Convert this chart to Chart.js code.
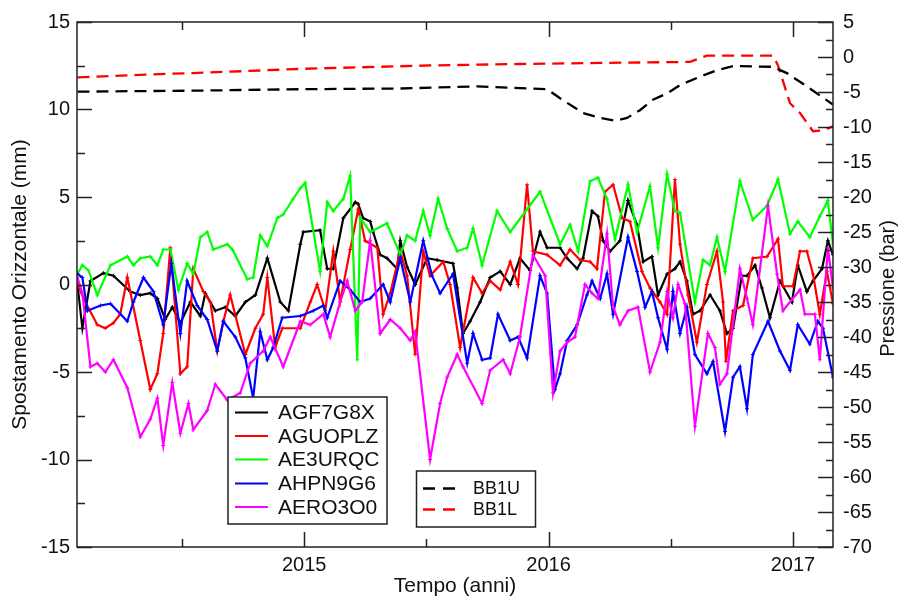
<!DOCTYPE html>
<html>
<head>
<meta charset="utf-8">
<script src="https://cdn.jsdelivr.net/npm/chart.js@4"></script>
<style>
html,body{margin:0;padding:0;background:#fff;}
canvas{display:block;}
</style>
</head>
<body>
<canvas id="c" width="901" height="600"></canvas>
<script>
// ---------- axis definitions ----------
const xMin = 2014.07, xMax = 2017.164;
const xTicks = [2015, 2016, 2017];
const xMinorTicks = [2014.5, 2015.5, 2016.5];
const yTicks = [-15, -10, -5, 0, 5, 10, 15];
const y1Ticks = [-70, -65, -60, -55, -50, -45, -40, -35, -30, -25, -20, -15, -10, -5, 0, 5];

const seriesNames = ['AGF7G8X', 'AGUOPLZ', 'AE3URQC', 'AHPN9G6', 'AERO3O0'];
const pressureNames = ['BB1U', 'BB1L'];

// ---------- displacement series (mm), time in decimal years ----------
const agf7g8xT = [2014.072,2014.092,2014.125,2014.178,2014.219,2014.288,2014.329,2014.370,2014.399,2014.431,
2014.460,2014.493,2014.534,2014.575,2014.595,2014.636,2014.677,2014.718,2014.759,2014.800,
2014.849,2014.902,2014.935,2014.984,2014.996,2015.065,2015.094,2015.119,2015.160,2015.209,
2015.221,2015.241,2015.270,2015.282,2015.311,2015.339,2015.380,2015.393,2015.421,2015.454,
2015.503,2015.544,2015.609,2015.626,2015.650,2015.679,2015.720,2015.761,2015.802,2015.843,
2015.883,2015.924,2015.965,2015.994,
2016.047,2016.076,2016.117,2016.141,2016.178,2016.202,2016.223,2016.252,2016.292,2016.325,
2016.362,2016.387,2016.423,2016.448,2016.485,2016.517,2016.538,2016.566,2016.591,2016.620,
2016.661,2016.701,2016.730,2016.755,2016.791,2016.812,2016.845,2016.873,2016.906,2016.947,
2016.996,2017.020,2017.057,2017.082,2017.119,2017.143,2017.164];
const agf7g8xV = [0.0,-2.5,0.2,0.65,0.5,-0.4,-0.6,-0.5,-0.8,-2.0,
-1.3,-2.2,-1.0,-1.8,-0.5,-1.5,-1.3,-1.8,-1.0,-0.6,
1.5,-1.0,-1.5,2.3,3.0,3.1,0.9,0.9,3.8,4.7,
4.6,3.8,3.6,3.0,1.7,1.5,0.9,2.5,1.0,0.0,
1.5,1.4,1.2,-0.2,-2.8,-2.1,-1.0,0.4,0.75,0.0,
1.5,0.8,3.0,2.1,
2.1,1.5,0.9,1.5,4.2,3.9,2.5,1.9,2.5,4.8,
3.4,1.3,1.6,-0.6,0.6,0.9,1.3,0.2,-1.7,-1.5,
-0.6,-1.5,-2.8,-2.5,0.5,0.5,1.1,-0.2,-1.9,0.2,
-1.0,1.1,-0.4,0.2,0.9,2.5,1.7];

const aguoplzT = [2014.072,2014.104,2014.153,2014.186,2014.219,2014.247,2014.276,2014.329,2014.370,2014.399,
2014.423,2014.452,2014.493,2014.521,2014.546,2014.587,2014.616,2014.644,2014.669,2014.697,
2014.759,2014.800,2014.832,2014.849,2014.881,2014.910,2014.984,2015.025,2015.053,2015.086,
2015.119,2015.147,2015.188,2015.221,2015.249,2015.299,2015.323,2015.352,2015.393,2015.421,
2015.454,2015.487,2015.515,2015.569,2015.597,2015.638,2015.691,2015.728,2015.761,2015.802,
2015.843,2015.875,2015.912,2015.936,
2015.994,2016.047,2016.088,2016.129,2016.170,2016.198,2016.231,2016.264,2016.301,2016.333,
2016.382,2016.415,2016.456,2016.485,2016.517,2016.538,2016.571,2016.607,2016.648,2016.689,
2016.714,2016.726,2016.755,2016.796,2016.836,2016.894,2016.939,2016.959,2017.000,2017.029,
2017.057,2017.082,2017.110,2017.139,2017.164];
const aguoplzV = [0.0,-1.0,-2.3,-2.5,-2.2,-1.7,0.4,-3.2,-6.0,-5.1,
-2.8,2.1,-5.1,-4.7,0.9,-0.4,-1.0,-3.8,-2.1,-0.6,
-4.0,-2.5,-1.7,0.4,-3.6,-2.5,-2.5,-1.0,0.0,-1.5,
1.9,-1.0,2.0,4.3,2.5,2.1,-1.7,-0.5,1.9,0.5,
-4.0,1.9,0.5,1.3,0.0,-3.6,0.4,-0.5,0.2,-0.3,
1.3,0.0,5.7,1.9,
1.7,1.1,2.0,1.4,1.3,0.9,5.3,5.7,3.8,3.6,
0.75,-0.2,-1.0,-1.7,6.0,2.3,-0.6,-3.3,0.0,1.9,
-1.0,-4.4,-1.5,-1.2,1.5,1.6,2.6,-0.1,-0.1,1.9,
1.9,0.6,-1.7,0.75,-1.1];

const ae3urqcT = [2014.072,2014.092,2014.117,2014.153,2014.207,2014.276,2014.301,2014.329,2014.370,2014.399,
2014.423,2014.452,2014.485,2014.521,2014.546,2014.575,2014.603,2014.628,2014.685,2014.706,
2014.767,2014.791,2014.820,2014.849,2014.890,2014.914,2014.955,2014.984,2015.004,2015.065,
2015.094,2015.119,2015.160,2015.188,2015.217,2015.229,2015.270,2015.339,2015.393,2015.421,
2015.454,2015.487,2015.515,2015.548,2015.585,2015.626,2015.667,2015.691,2015.728,2015.789,
2015.843,2015.912,2015.965,
2016.047,2016.088,2016.121,2016.170,2016.202,2016.239,2016.272,2016.325,2016.362,2016.415,
2016.448,2016.485,2016.517,2016.538,2016.599,2016.632,2016.661,2016.689,2016.722,2016.783,
2016.836,2016.894,2016.939,2016.988,2017.020,2017.069,2017.110,2017.143,2017.164];
const ae3urqcV = [0.6,1.1,0.8,-0.6,1.1,1.6,1.1,1.5,1.6,1.1,
2.0,2.0,-0.3,1.2,0.6,2.7,3.0,2.0,2.3,2.0,
0.3,0.4,2.8,2.2,3.8,4.0,4.9,5.5,5.8,0.75,
4.7,4.2,4.9,6.2,-4.3,3.8,3.0,3.5,1.7,2.8,
2.5,4.2,2.8,4.9,3.2,1.9,2.1,3.2,1.1,4.2,
3.0,4.3,5.3,
2.3,3.4,1.9,5.9,6.1,4.9,2.6,5.7,3.0,5.6,
2.1,6.3,4.2,4.1,-1.0,1.4,1.1,2.7,0.75,5.9,
3.7,4.5,6.0,2.9,3.6,2.7,3.9,4.8,2.3];

const ahpn9g6T = [2014.072,2014.092,2014.113,2014.166,2014.207,2014.276,2014.301,2014.342,2014.383,2014.423,
2014.456,2014.493,2014.521,2014.562,2014.603,2014.644,2014.669,2014.718,2014.759,2014.791,
2014.820,2014.849,2014.873,2014.910,2014.984,2015.037,2015.078,2015.094,2015.147,2015.188,
2015.229,2015.270,2015.323,2015.352,2015.393,2015.434,2015.487,2015.523,2015.556,2015.609,
2015.667,2015.691,2015.728,2015.761,2015.793,2015.843,2015.875,2015.912,2015.965,2015.994,
2016.026,
2016.047,2016.076,2016.117,2016.157,2016.178,2016.211,2016.239,2016.264,2016.325,2016.362,
2016.395,2016.423,2016.448,2016.485,2016.509,2016.538,2016.566,2016.599,2016.648,2016.673,
2016.722,2016.755,2016.783,2016.812,2016.836,2016.898,2016.947,2016.988,2017.020,2017.069,
2017.102,2017.123,2017.164];
const ahpn9g6V = [0.6,0.4,-1.5,-1.2,-1.1,-2.1,-1.0,0.4,-0.4,-2.3,
1.2,-2.8,0.2,-1.2,-2.0,-3.8,-2.1,-3.0,-4.2,-6.5,
-2.7,-4.3,-3.6,-1.9,-1.8,-1.5,-1.2,-1.9,0.2,-0.3,
-1.0,-0.8,0.0,-1.0,1.5,-1.0,2.5,0.5,-0.5,0.6,
-4.5,-2.8,-4.3,-4.2,-1.7,-3.2,-3.0,-4.2,0.5,-0.5,
-6.0,
-5.1,-3.2,-2.3,-0.6,0.2,-0.8,0.6,-1.7,2.7,0.75,
-1.3,-0.4,-1.9,-3.7,-0.4,-2.8,-1.3,-4.0,-5.1,-4.4,
-8.4,-5.3,-4.7,-7.1,-4.0,-2.1,-3.8,-4.9,-2.3,-3.4,
-2.1,-2.5,-5.3];

const aero3o0T = [2014.072,2014.092,2014.125,2014.153,2014.186,2014.219,2014.276,2014.329,2014.370,2014.399,
2014.423,2014.460,2014.493,2014.526,2014.546,2014.603,2014.636,2014.685,2014.738,2014.779,
2014.832,2014.861,2014.914,2014.984,2015.025,2015.078,2015.106,2015.147,2015.176,2015.209,
2015.237,2015.270,2015.311,2015.352,2015.393,2015.434,2015.454,2015.515,2015.556,2015.585,
2015.626,2015.650,2015.728,2015.761,2015.814,2015.843,2015.883,2015.936,2015.986,2016.018,
2016.047,2016.076,2016.108,2016.149,2016.178,2016.202,2016.239,2016.264,2016.292,2016.325,
2016.366,2016.415,2016.456,2016.485,2016.509,2016.530,2016.558,2016.599,2016.652,2016.681,
2016.701,2016.730,2016.783,2016.812,2016.836,2016.898,2016.935,2016.959,2017.029,2017.049,
2017.090,2017.110,2017.143,2017.164];
const aero3o0V = [0.4,-0.5,-4.7,-4.5,-5.0,-4.3,-5.9,-8.7,-7.7,-6.5,
-9.2,-5.6,-8.5,-6.8,-8.3,-7.2,-5.7,-6.6,-6.2,-4.5,
-3.8,-3.0,-4.7,-2.1,-2.3,-1.7,-3.0,-1.0,0.2,-1.5,
-1.0,2.5,-2.8,-2.0,-2.5,-3.2,-2.7,-10.0,-6.8,-5.3,
-4.0,-4.7,-6.8,-4.9,-4.3,-5.1,-3.0,1.7,0.5,-6.2,
-3.8,-3.3,-3.0,0.0,-0.5,-0.8,2.9,-1.3,-2.3,-1.5,
-1.3,-5.0,-3.3,-0.4,-1.9,0.0,-1.1,-8.1,-2.8,-3.6,
-5.7,-5.1,0.9,-0.8,-2.3,4.5,0.6,-1.5,-0.3,-1.7,
-1.7,-4.3,2.1,-0.2];

// ---------- pressure series (bar) ----------
const bb1uT = [2014.072,2014.575,2014.984,2015.393,2015.708,2015.994,2016.047,2016.141,2016.211,2016.272,2016.321,
2016.374,2016.427,2016.485,2016.538,2016.620,2016.689,2016.755,2016.918,2016.975,2017.057,2017.164];
const bb1uV = [-4.95,-4.8,-4.6,-4.5,-4.2,-4.6,-5.9,-8.0,-8.7,-9.1,-8.7,
-7.6,-6.1,-5.2,-4.0,-2.8,-1.9,-1.3,-1.4,-2.3,-4.2,-6.8];
const bb1lT = [2014.072,2014.370,2014.697,2014.984,2015.528,2015.883,2016.211,2016.579,2016.648,2016.918,2016.939,
2016.988,2017.029,2017.082,2017.123,2017.164];
const bb1lV = [-2.9,-2.5,-2.1,-1.7,-1.2,-1.0,-0.85,-0.7,0.2,0.2,-1.2,
-6.6,-8.0,-10.6,-10.5,-9.9];

// ---------- build datasets ----------
const FONT = '"Liberation Sans", Arial, Helvetica, sans-serif';
const TXT = '#111';
const pts = (t, v) => t.map((x, i) => ({x: x, y: v[i]}));

const solid = [
  [agf7g8xT, agf7g8xV, '#000000'],
  [aguoplzT, aguoplzV, '#ff0000'],
  [ae3urqcT, ae3urqcV, '#00ff00'],
  [ahpn9g6T, ahpn9g6V, '#0000ff'],
  [aero3o0T, aero3o0V, '#ff00ff']
];
const datasets = solid.map((s, i) => ({
  label: seriesNames[i],
  data: pts(s[0], s[1]),
  borderColor: s[2],
  backgroundColor: s[2],
  borderWidth: 2.2,
  pointStyle: 'cross',
  pointRadius: 2,
  pointBorderWidth: 1,
  yAxisID: 'y',
  order: 5 - i,
  group: 1
}));
[[bb1uT, bb1uV, '#000000'], [bb1lT, bb1lV, '#ff0000']].forEach((s, i) => {
  datasets.push({
    label: pressureNames[i],
    data: pts(s[0], s[1]),
    borderColor: s[2],
    backgroundColor: s[2],
    borderWidth: 2.3,
    borderDash: [12, 7],
    pointRadius: 0,
    yAxisID: 'y1',
    order: 6,
    group: 2
  });
});

// ---------- decorations: frame, inward ticks, right title, legends ----------
const decor = {
  id: 'decor',
  afterDatasetsDraw(chart) {
    const {ctx, chartArea: a, scales} = chart;
    const x = scales.x, y = scales.y, y1 = scales.y1;
    ctx.save();
    ctx.strokeStyle = '#222';
    ctx.lineWidth = 1.5;
    ctx.strokeRect(a.left, a.top, a.right - a.left, a.bottom - a.top);
    ctx.beginPath();
    const vt = (v, len) => {
      const p = Math.round(x.getPixelForValue(v)) + 0.5;
      ctx.moveTo(p, a.bottom); ctx.lineTo(p, a.bottom - len);
      ctx.moveTo(p, a.top); ctx.lineTo(p, a.top + len);
    };
    xTicks.forEach(v => vt(v, 15));
    xMinorTicks.forEach(v => vt(v, 8));
    yTicks.forEach((v, i) => {
      const p = Math.round(y.getPixelForValue(v)) + 0.5;
      ctx.moveTo(a.left, p); ctx.lineTo(a.left + 15, p);
      if (i < yTicks.length - 1) {
        const m = Math.round(y.getPixelForValue(v + 2.5)) + 0.5;
        ctx.moveTo(a.left, m); ctx.lineTo(a.left + 8, m);
      }
    });
    y1Ticks.forEach((v, i) => {
      const p = Math.round(y1.getPixelForValue(v)) + 0.5;
      ctx.moveTo(a.right, p); ctx.lineTo(a.right - 15, p);
      if (i < y1Ticks.length - 1) {
        const m = Math.round(y1.getPixelForValue(v + 2.5)) + 0.5;
        ctx.moveTo(a.right, m); ctx.lineTo(a.right - 7, m);
      }
    });
    ctx.stroke();

    // right axis title (reads bottom to top)
    ctx.fillStyle = TXT;
    ctx.font = '20px ' + FONT;
    ctx.textAlign = 'center';
    ctx.textBaseline = 'middle';
    ctx.save();
    ctx.translate(888, (a.top + a.bottom) / 2 + 4);
    ctx.rotate(-Math.PI / 2);
    ctx.fillText('Pressione (bar)', 0, 0);
    ctx.restore();

    // legend 1 (displacement series)
    const ds = chart.data.datasets;
    const drawBox = (l, t, w, h) => {
      ctx.fillStyle = '#fff';
      ctx.fillRect(l, t, w, h);
      ctx.strokeStyle = '#222';
      ctx.lineWidth = 1.5;
      ctx.strokeRect(l, t, w, h);
    };
    drawBox(228, 397, 159, 127);
    ctx.textAlign = 'left';
    ctx.font = '21px ' + FONT;
    const rows1 = [412.5, 436, 459.5, 483.5, 507];
    ds.filter(d => d.group === 1).forEach((d, i) => {
      const yy = rows1[i];
      ctx.strokeStyle = d.borderColor;
      ctx.lineWidth = 2.2;
      ctx.setLineDash([]);
      ctx.beginPath(); ctx.moveTo(235, yy); ctx.lineTo(268, yy); ctx.stroke();
      ctx.fillStyle = TXT;
      ctx.fillText(d.label, 278, yy + 1);
    });
    // legend 2 (pressure series)
    drawBox(416.5, 471, 119, 56);
    ctx.font = '18px ' + FONT;
    const rows2 = [488.5, 509.5];
    ds.filter(d => d.group === 2).forEach((d, i) => {
      const yy = rows2[i];
      ctx.strokeStyle = d.borderColor;
      ctx.lineWidth = 2.3;
      ctx.setLineDash([12, 8]);
      ctx.beginPath(); ctx.moveTo(423, yy); ctx.lineTo(455, yy); ctx.stroke();
      ctx.setLineDash([]);
      ctx.fillStyle = TXT;
      ctx.fillText(d.label, 473, yy + 1);
    });
    ctx.restore();
  }
};

new Chart(document.getElementById('c'), {
  type: 'line',
  data: {datasets: datasets},
  options: {
    responsive: false,
    animation: false,
    layout: {padding: {top: 18, left: 0, right: 0, bottom: 0}},
    plugins: {legend: {display: false}, tooltip: {enabled: false}},
    elements: {line: {tension: 0}},
    scales: {
      x: {
        type: 'linear', position: 'bottom', min: xMin, max: xMax,
        afterBuildTicks: s => { s.ticks = xTicks.map(v => ({value: v})); },
        afterFit: s => { s.height = 53; },
        grid: {display: false, drawTicks: false},
        border: {display: false},
        ticks: {font: {family: FONT, size: 20}, color: TXT, padding: 6, maxRotation: 0, autoSkip: false,
                callback: v => String(v)},
        title: {display: true, text: 'Tempo (anni)', color: TXT, font: {family: FONT, size: 21},
                padding: {top: 0, bottom: 1}}
      },
      y: {
        position: 'left', min: -15, max: 15,
        afterBuildTicks: s => { s.ticks = yTicks.map(v => ({value: v})); },
        afterFit: s => { s.width = 77; },
        grid: {display: false, drawTicks: false},
        border: {display: false},
        ticks: {font: {family: FONT, size: 20}, color: TXT, padding: 7},
        title: {display: true, text: 'Spostamento Orizzontale (mm)', color: TXT,
                font: {family: FONT, size: 21}, padding: {top: 8, bottom: 0}}
      },
      y1: {
        position: 'right', min: -70, max: 5,
        afterBuildTicks: s => { s.ticks = y1Ticks.map(v => ({value: v})); },
        afterFit: s => { s.width = 68; },
        grid: {display: false, drawTicks: false},
        border: {display: false},
        ticks: {font: {family: FONT, size: 20}, color: TXT, padding: 10}
      }
    }
  },
  plugins: [decor]
});
</script>
</body>
</html>
